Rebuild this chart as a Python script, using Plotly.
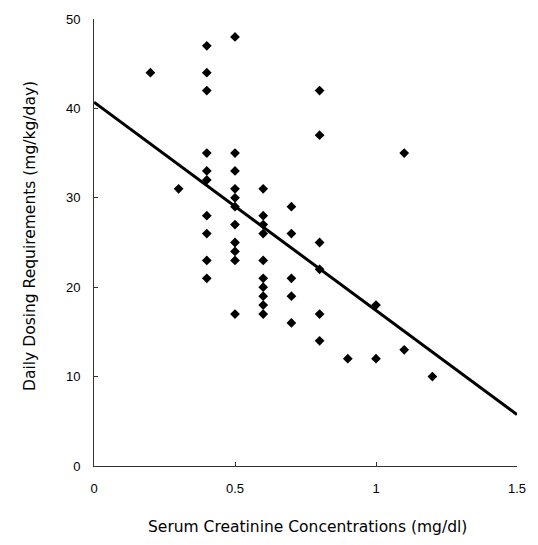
import plotly.graph_objects as go

# Serum creatinine (mg/dl) and daily dosing requirements (mg/kg/day)
creatinine = [0.2, 0.3,
              0.4, 0.4, 0.4, 0.4, 0.4, 0.4, 0.4, 0.4, 0.4, 0.4,
              0.5, 0.5, 0.5, 0.5, 0.5, 0.5, 0.5, 0.5, 0.5, 0.5, 0.5,
              0.6, 0.6, 0.6, 0.6, 0.6, 0.6, 0.6, 0.6, 0.6, 0.6,
              0.7, 0.7, 0.7, 0.7, 0.7,
              0.8, 0.8, 0.8, 0.8, 0.8, 0.8,
              0.9, 1.0, 1.0, 1.1, 1.1, 1.2]
dosing = [44, 31,
          47, 44, 42, 35, 33, 32, 28, 26, 23, 21,
          48, 35, 33, 31, 30, 29, 27, 25, 24, 23, 17,
          31, 28, 27, 26, 23, 21, 20, 19, 18, 17,
          29, 26, 21, 19, 16,
          42, 37, 25, 22, 17, 14,
          12, 18, 12, 35, 13, 10]

# Regression line parameters
fit_intercept = 40.7
fit_slope = -23.3
fit_x = [0.0, 1.5]
fit_y = [fit_intercept + fit_slope * x for x in fit_x]

x_ticks = [0, 0.5, 1, 1.5]
x_tick_labels = ["0", "0.5", "1", "1.5"]
y_ticks = [0, 10, 20, 30, 40, 50]

fig = go.Figure()
fig.add_trace(go.Scatter(x=fit_x, y=fit_y, mode="lines",
                         line=dict(color="black", width=3), showlegend=False,
                         cliponaxis=False))
fig.add_trace(go.Scatter(x=creatinine, y=dosing, mode="markers",
                         marker=dict(symbol="diamond", size=7.5, color="black"),
                         showlegend=False, cliponaxis=False))

tick_font = dict(family="Liberation Sans, Arial, sans-serif", size=13, color="#000")
title_font = dict(family="DejaVu Sans, sans-serif", size=15.5, color="#000")
fig.update_layout(
    width=538, height=545,
    margin=dict(l=94, r=20, t=14, b=79),
    paper_bgcolor="white", plot_bgcolor="white",
    font=tick_font,
    xaxis=dict(range=[0, 1.5], tickvals=x_ticks, ticktext=x_tick_labels,
               showgrid=False, zeroline=False, showline=True, linecolor="#333",
               linewidth=1, ticks="inside", ticklen=4, tickcolor="#333",
               ticklabelstandoff=10, tickfont=tick_font),
    yaxis=dict(range=[0, 50], tickvals=y_ticks,
               showgrid=False, zeroline=False, showline=True, linecolor="#333",
               linewidth=1, ticks="inside", ticklen=4, tickcolor="#333",
               ticklabelstandoff=10, tickfont=tick_font),
    annotations=[
        dict(text="Serum Creatinine Concentrations (mg/dl)", xref="paper", yref="paper",
             x=0.505, y=-0.137, xanchor="center", yanchor="middle", showarrow=False,
             font=title_font),
        dict(text="Daily Dosing Requirements (mg/kg/day)", xref="paper", yref="paper",
             x=-0.151, y=0.515, textangle=-90, xanchor="center", yanchor="middle",
             showarrow=False, font=title_font),
    ],
)

fig.write_html("out.html")
